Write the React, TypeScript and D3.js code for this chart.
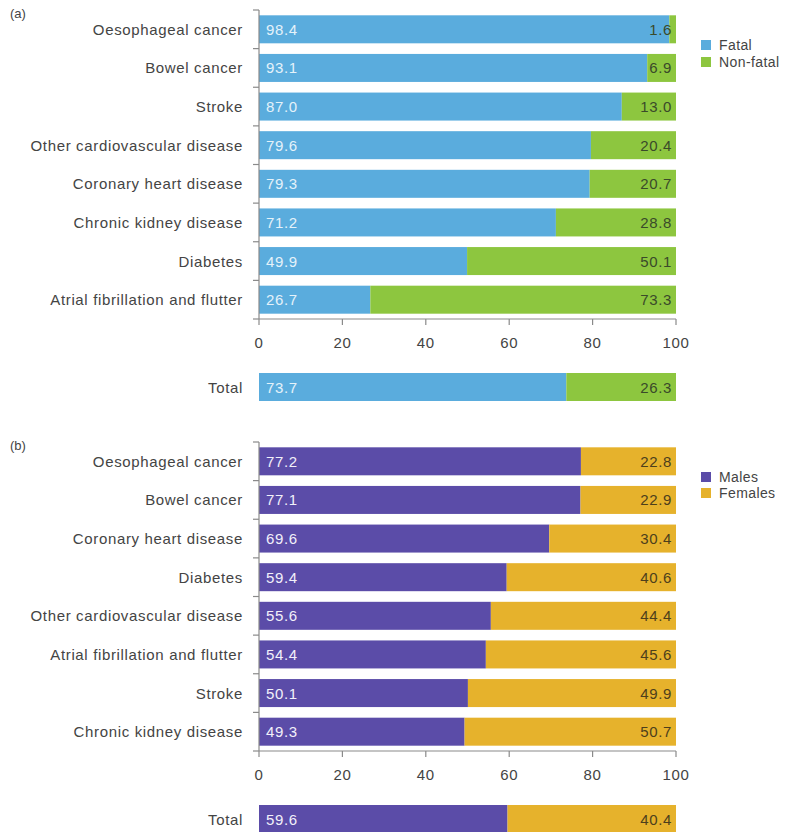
import React from "react";
import * as d3 from "d3";

// Panel (a): fatal vs non-fatal share of burden, by disease
const fatalCategories = [
  "Oesophageal cancer",
  "Bowel cancer",
  "Stroke",
  "Other cardiovascular disease",
  "Coronary heart disease",
  "Chronic kidney disease",
  "Diabetes",
  "Atrial fibrillation and flutter",
];
const fatalValues = [98.4, 93.1, 87.0, 79.6, 79.3, 71.2, 49.9, 26.7];
const nonFatalValues = [1.6, 6.9, 13.0, 20.4, 20.7, 28.8, 50.1, 73.3];
const fatalTotal = [73.7, 26.3];

// Panel (b): male vs female share of burden, by disease
const sexCategories = [
  "Oesophageal cancer",
  "Bowel cancer",
  "Coronary heart disease",
  "Diabetes",
  "Other cardiovascular disease",
  "Atrial fibrillation and flutter",
  "Stroke",
  "Chronic kidney disease",
];
const maleValues = [77.2, 77.1, 69.6, 59.4, 55.6, 54.4, 50.1, 49.3];
const femaleValues = [22.8, 22.9, 30.4, 40.6, 44.4, 45.6, 49.9, 50.7];
const sexTotal = [59.6, 40.4];

const xTicks = [0, 20, 40, 60, 80, 100];

const FONT = "'Liberation Sans', Arial, Helvetica, sans-serif";
const TEXT = "#444444";
const AXIS = "#8a8a8a";

const x = d3.scaleLinear().domain([0, 100]).range([259, 676]);

type PanelProps = {
  label: string;
  top: number;
  categories: string[];
  first: number[];
  second: number[];
  total: number[];
  colors: [string, string];
  innerText: [string, string];
  legend: [string, string];
  legendY: number;
  legendGap: number;
};

function fmt(v: number) {
  return v.toFixed(1);
}

function Panel(p: PanelProps) {
  const bottom = p.top + 309;
  const y = d3
    .scaleBand<string>()
    .domain(p.categories)
    .range([p.top, bottom])
    .paddingInner(0.275)
    .paddingOuter(0.1375);
  const bw = y.bandwidth();
  const step = y.step();
  const boundaries = d3.range(p.categories.length + 1).map((i) => p.top + i * step);
  const totalY = bottom + 68 - bw / 2;
  const fs = 15;
  const ls = 0.65;

  const rows = p.categories.map((c, i) => ({
    c,
    a: p.first[i],
    b: p.second[i],
    y0: y(c) as number,
  }));
  rows.push({ c: "Total", a: p.total[0], b: p.total[1], y0: totalY });

  return (
    <g fontFamily={FONT}>
      <text x={10} y={p.top + 8} fontSize={13} fill={TEXT}>
        {p.label}
      </text>

      {rows.map((r) => (
        <g key={r.c}>
          <text
            x={243}
            y={r.y0 + bw / 2}
            textAnchor="end"
            dominantBaseline="central"
            fontSize={fs}
            letterSpacing={ls}
            fill={TEXT}
          >
            {r.c}
          </text>
          <rect x={x(0)} y={r.y0} width={x(r.a) - x(0)} height={bw} fill={p.colors[0]} />
          <rect x={x(r.a)} y={r.y0} width={x(r.a + r.b) - x(r.a)} height={bw} fill={p.colors[1]} />
          <text
            x={x(0) + 7}
            y={r.y0 + bw / 2}
            dominantBaseline="central"
            fontSize={fs}
            letterSpacing={ls}
            fill={p.innerText[0]}
          >
            {fmt(r.a)}
          </text>
          <text
            x={x(100) - 4}
            y={r.y0 + bw / 2}
            textAnchor="end"
            dominantBaseline="central"
            fontSize={fs}
            letterSpacing={ls}
            fill={p.innerText[1]}
          >
            {fmt(r.b)}
          </text>
        </g>
      ))}

      {/* category axis */}
      <line x1={x(0)} x2={x(0)} y1={p.top} y2={bottom} stroke={AXIS} strokeWidth={1.2} />
      {boundaries.map((b, i) => (
        <line key={i} x1={x(0) - 6} x2={x(0)} y1={b} y2={b} stroke={AXIS} strokeWidth={1.2} />
      ))}

      {/* value axis */}
      <line x1={x(0)} x2={x(100)} y1={bottom} y2={bottom} stroke={AXIS} strokeWidth={1.2} />
      {xTicks.map((t) => (
        <g key={t}>
          <line x1={x(t)} x2={x(t)} y1={bottom} y2={bottom + 6} stroke={AXIS} strokeWidth={1.2} />
          <text
            x={x(t)}
            y={bottom + 23}
            textAnchor="middle"
            dominantBaseline="central"
            fontSize={fs}
            letterSpacing={ls}
            fill={TEXT}
          >
            {t}
          </text>
        </g>
      ))}

      {/* legend */}
      {p.legend.map((l, i) => (
        <g key={l}>
          <rect x={701} y={p.legendY + i * p.legendGap - 5} width={10} height={10} fill={p.colors[i]} />
          <text
            x={719}
            y={p.legendY + i * p.legendGap}
            dominantBaseline="central"
            fontSize={14}
            letterSpacing={0.4}
            fill={TEXT}
          >
            {l}
          </text>
        </g>
      ))}
    </g>
  );
}

export default function App() {
  return (
    <svg
      width={786}
      height={832}
      style={{ position: "absolute", left: 0, top: 0, background: "#fff" }}
    >
      <Panel
        label="(a)"
        top={10}
        categories={fatalCategories}
        first={fatalValues}
        second={nonFatalValues}
        total={fatalTotal}
        colors={["#5aacdd", "#8dc63f"]}
        innerText={["#e4f2fa", "#3a4a2a"]}
        legend={["Fatal", "Non-fatal"]}
        legendY={45}
        legendGap={17}
      />
      <Panel
        label="(b)"
        top={442}
        categories={sexCategories}
        first={maleValues}
        second={femaleValues}
        total={sexTotal}
        colors={["#5b4ca8", "#e6b22c"]}
        innerText={["#f2f0fa", "#4d3f1c"]}
        legend={["Males", "Females"]}
        legendY={477}
        legendGap={16}
      />
    </svg>
  );
}
